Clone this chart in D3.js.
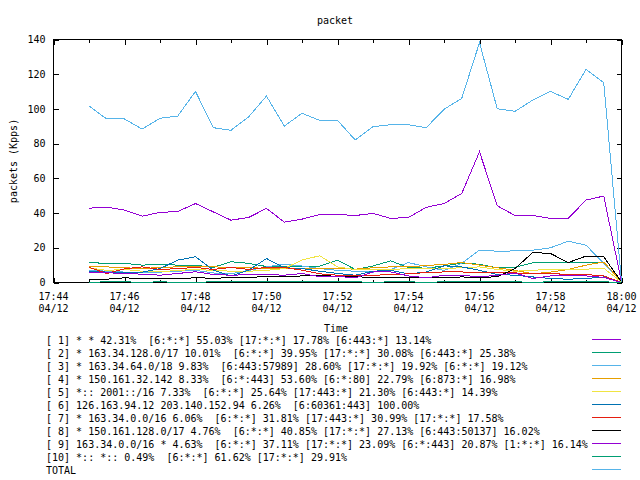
<!DOCTYPE html>
<html>
	<head>
		<meta charset="utf-8" />
		<title>packet</title>
		<script src="https://d3js.org/d3.v7.min.js"></script>
		<style>
			body { margin: 0; background: #fff; }
			text { font-family: "DejaVu Sans Mono", monospace; font-size: 10px; fill: #000; white-space: pre; }
		</style>
	</head>
	<body>
		<div id="chart"></div>
		<script>

		// sample times (every 30 s)
		var times = ["17:45:00","17:45:30","17:46:00","17:46:30","17:47:00","17:47:30","17:48:00","17:48:30",
			"17:49:00","17:49:30","17:50:00","17:50:30","17:51:00","17:51:30","17:52:00","17:52:30",
			"17:53:00","17:53:30","17:54:00","17:54:30","17:55:00","17:55:30","17:56:00","17:56:30",
			"17:57:00","17:57:30","17:58:00","17:58:30","17:59:00","17:59:30","18:00:00"];

		// series values in Kpps
		var s1  = [42.8, 43.4, 41.7, 38.2, 40.4, 40.9, 45.5, 40.7, 35.9, 37.5, 42.7, 34.8, 36.5, 39.2, 39.2, 38.6, 39.8, 36.9, 37.5, 43.3, 45.5, 51.3, 75.3, 44.2, 38.6, 38.6, 36.9, 36.9, 47.5, 49.8, 0.3];
		var s2  = [11.5, 11, 11, 10, 10.6, 10, 10, 8.7, 12, 11, 9.2, 9, 9.4, 9.4, 12.9, 7.5, 9.5, 12.5, 8.5, 8.3, 9.5, 11.2, 10.5, 8.4, 8.8, 11.3, 11.5, 11.5, 11.5, 11.5, 0.3];
		var s3  = [7, 6.5, 6, 6, 6, 6.5, 7, 5.5, 5, 7, 9, 10.5, 9.5, 8, 7, 6.5, 6, 7.5, 11.5, 9, 7, 11, 18.7, 18, 18.2, 18.6, 20, 23.8, 21.5, 11, 0.4];
		var s4  = [9, 9, 8.5, 8, 8.7, 9, 9, 9, 8.7, 8.7, 8, 8, 8, 8, 8, 7.7, 8.5, 9, 9, 9.8, 10.4, 11.5, 10, 8.5, 7, 5, 6, 7.5, 10, 11.8, 0.3];
		var s5  = [8.4, 7, 7.5, 6.5, 6.1, 7, 7.5, 7, 6.5, 6.5, 7, 8, 13, 15.4, 9, 7.5, 7.5, 7.5, 8, 8, 8, 8.5, 9, 7.5, 6.5, 7, 7.7, 7.7, 7.7, 8.2, 0.3];
		var s6  = [6.5, 6, 6, 6, 8, 12.9, 14.8, 7.1, 3.7, 7.1, 13.8, 8.5, 8, 6.5, 5.2, 4.2, 6.5, 7, 5, 6, 9.6, 9, 7, 4.6, 4.2, 3.2, 2.3, 1.9, 2.3, 3.2, 0];
		var s7  = [8.7, 5.2, 7.9, 9, 7.5, 8, 8.7, 7.5, 8.7, 7.5, 8.7, 8.7, 7.1, 5, 4.2, 4.2, 4.2, 4.5, 5, 5.7, 6.1, 6.1, 5.5, 5.5, 5.5, 5.2, 5.2, 4.6, 4.6, 3.8, 0];
		var s8  = [1.9, 1.9, 2.7, 2.3, 2.3, 2.3, 2.7, 2.5, 2.7, 2.7, 3.7, 3.2, 3.8, 4.0, 3.6, 3.4, 2.8, 3.0, 3.0, 3.0, 2.8, 3.2, 2.9, 3.3, 8, 17.3, 16.7, 11.5, 15.2, 14.8, 0.3];
		var s9  = [5.6, 5.6, 5.2, 4.8, 4.2, 5.2, 6.2, 4.6, 4.2, 4.5, 4.6, 4.2, 5.2, 3.3, 3.5, 2.7, 6.1, 6.1, 3.8, 2.7, 4.2, 4.2, 3.2, 4.2, 5.5, 2.3, 3.8, 3.8, 3.8, 2.9, 0];
		var s10 = [0.1, 0.4, 0.4, 0.1, 0.4, 0.1, 0.1, 0.4, 0.4, 0.4, 0.4, 0.4, 0.4, 0.4, 0.4, 0.4, 0.1, 0.4, 0.4, 0.1, 0.4, 0.4, 0.4, 0.4, 0.4, 0.1, 0.4, 0.4, 0.4, 0.4, 0];
		var total = [101.7, 94.2, 94.2, 88.4, 94.6, 95.9, 110.1, 89.2, 87.7, 95.5, 107.4, 90.1, 97.5, 93.4, 93.4, 82.1, 89.8, 90.9, 90.9, 89.2, 99.8, 106.1, 138.2, 100.1, 98.6, 105.1, 110.1, 105.5, 122.8, 115.1, 0.5];

		var legendLabels = [
			"[ 1] * * 42.31%  [6:*:*] 55.03% [17:*:*] 17.78% [6:443:*] 13.14%",
			"[ 2] * 163.34.128.0/17 10.01%  [6:*:*] 39.95% [17:*:*] 30.08% [6:443:*] 25.38%",
			"[ 3] * 163.34.64.0/18 9.83%  [6:443:57989] 28.60% [17:*:*] 19.92% [6:*:*] 19.12%",
			"[ 4] * 150.161.32.142 8.33%  [6:*:443] 53.60% [6:*:80] 22.79% [6:873:*] 16.98%",
			"[ 5] *:: 2001::/16 7.33%  [6:*:*] 25.64% [17:443:*] 21.30% [6:443:*] 14.39%",
			"[ 6] 126.163.94.12 203.140.152.94 6.26%  [6:60361:443] 100.00%",
			"[ 7] * 163.34.0.0/16 6.06%  [6:*:*] 31.81% [17:443:*] 30.99% [17:*:*] 17.58%",
			"[ 8] * 150.161.128.0/17 4.76%  [6:*:*] 40.85% [17:*:*] 27.13% [6:443:50137] 16.02%",
			"[ 9] 163.34.0.0/16 * 4.63%  [6:*:*] 37.11% [17:*:*] 23.09% [6:*:443] 20.87% [1:*:*] 16.14%",
			"[10] *:: *:: 0.49%  [6:*:*] 61.62% [17:*:*] 29.91%",
			"TOTAL"
		];
		var colors = ["#9400d3", "#009e73", "#56b4e9", "#e69f00", "#f0e442", "#0072b2", "#e51e10", "#000000", "#9400d3", "#009e73", "#56b4e9"];
		var yTicks = [0, 20, 40, 60, 80, 100, 120, 140];

		var series = [s1, s2, s3, s4, s5, s6, s7, s8, s9, s10, total];

		var parseT = function(s) {
			var p = s.split(":");
			return new Date(2020, 3, 12, +p[0], +p[1], +p[2]);
		};
		var tDates = times.map(parseT);

		var width = 640, height = 480;
		// plot frame (note: "top" is reserved on window, so use other names)
		var pLeft = 53.5, pRight = 621.5, pTop = 39.5, pBottom = 282.5;

		var svg = d3.select("#chart")
			.append("svg")
			.attr("width", width)
			.attr("height", height);

		// scales
		var x = d3.scaleTime()
			.domain([new Date(2020, 3, 12, 17, 44), new Date(2020, 3, 12, 18, 0)])
			.range([pLeft, pRight]);
		var y = d3.scaleLinear()
			.domain([0, 140])
			.range([pBottom, pTop]);

		// ticks (inward, mirrored like gnuplot)
		var majorX = x.ticks(d3.timeMinute.every(2));
		var minorX = x.ticks(d3.timeMinute.every(1));

		var noDomain = function(g) { g.select(".domain").remove(); };

		svg.append("g")
			.attr("transform", "translate(0," + pBottom + ")")
			.call(d3.axisBottom(x).tickValues(minorX).tickSize(-3).tickFormat(""))
			.call(noDomain);
		svg.append("g")
			.attr("transform", "translate(0," + pBottom + ")")
			.call(d3.axisBottom(x).tickValues(majorX).tickSize(-5).tickFormat(""))
			.call(noDomain);
		svg.append("g")
			.attr("transform", "translate(0," + pTop + ")")
			.call(d3.axisTop(x).tickValues(minorX).tickSize(-3).tickFormat(""))
			.call(noDomain);
		svg.append("g")
			.attr("transform", "translate(0," + pTop + ")")
			.call(d3.axisTop(x).tickValues(majorX).tickSize(-5).tickFormat(""))
			.call(noDomain);

		svg.append("g")
			.attr("transform", "translate(" + pLeft + ",0)")
			.call(d3.axisLeft(y).tickValues(yTicks).tickSize(-5).tickPadding(8))
			.call(noDomain);
		svg.append("g")
			.attr("transform", "translate(" + pRight + ",0)")
			.call(d3.axisRight(y).tickValues(yTicks).tickSize(-5).tickFormat(""))
			.call(noDomain);

		svg.selectAll(".tick line")
			.attr("stroke", "#000")
			.attr("shape-rendering", "crispEdges");
		svg.selectAll(".tick text")
			.style("font-family", "DejaVu Sans Mono")
			.style("font-size", "10px")
			.attr("fill", "#000");

		// two-line x labels
		var fmtHM = d3.timeFormat("%H:%M"), fmtMD = d3.timeFormat("%m/%d");
		var xl = svg.append("g").selectAll("g")
			.data(majorX)
			.enter()
			.append("g")
			.attr("transform", function(d) { return "translate(" + x(d) + ",0)"; });
		xl.append("text")
			.attr("y", 296)
			.attr("text-anchor", "middle")
			.attr("dominant-baseline", "central")
			.text(fmtHM);
		xl.append("text")
			.attr("y", 308.5)
			.attr("text-anchor", "middle")
			.attr("dominant-baseline", "central")
			.text(fmtMD);

		// border
		svg.append("rect")
			.attr("x", pLeft).attr("y", pTop)
			.attr("width", pRight - pLeft).attr("height", pBottom - pTop)
			.attr("fill", "none").attr("stroke", "#000")
			.attr("shape-rendering", "crispEdges");

		// lines
		var line = d3.line()
			.x(function(d, i) { return x(tDates[i]); })
			.y(function(d) { return y(d); });

		svg.append("g")
			.selectAll("path")
			.data(series)
			.enter()
			.append("path")
			.attr("d", line)
			.attr("fill", "none")
			.attr("stroke", function(d, i) { return colors[i]; })
			.attr("stroke-width", 1)
			.attr("shape-rendering", "crispEdges");

		// titles
		svg.append("text")
			.attr("x", 335).attr("y", 20)
			.attr("text-anchor", "middle")
			.attr("dominant-baseline", "central")
			.text("packet");
		svg.append("text")
			.attr("transform", "translate(13,161) rotate(-90)")
			.attr("text-anchor", "middle")
			.attr("dominant-baseline", "central")
			.text("packets (Kpps)");
		svg.append("text")
			.attr("x", 336).attr("y", 328)
			.attr("text-anchor", "middle")
			.attr("dominant-baseline", "central")
			.text("Time");

		// legend
		var leg = svg.append("g").selectAll("g")
			.data(legendLabels)
			.enter()
			.append("g")
			.attr("transform", function(d, i) { return "translate(0," + (340 + 13 * i) + ")"; });
		leg.append("text")
			.attr("x", 46)
			.attr("dominant-baseline", "central")
			.text(function(d) { return d; });
		leg.append("line")
			.attr("x1", 592).attr("x2", 621)
			.attr("y1", -0.5).attr("y2", -0.5)
			.attr("stroke", function(d, i) { return colors[i]; })
			.attr("shape-rendering", "crispEdges");

		</script>
	</body>
</html>
